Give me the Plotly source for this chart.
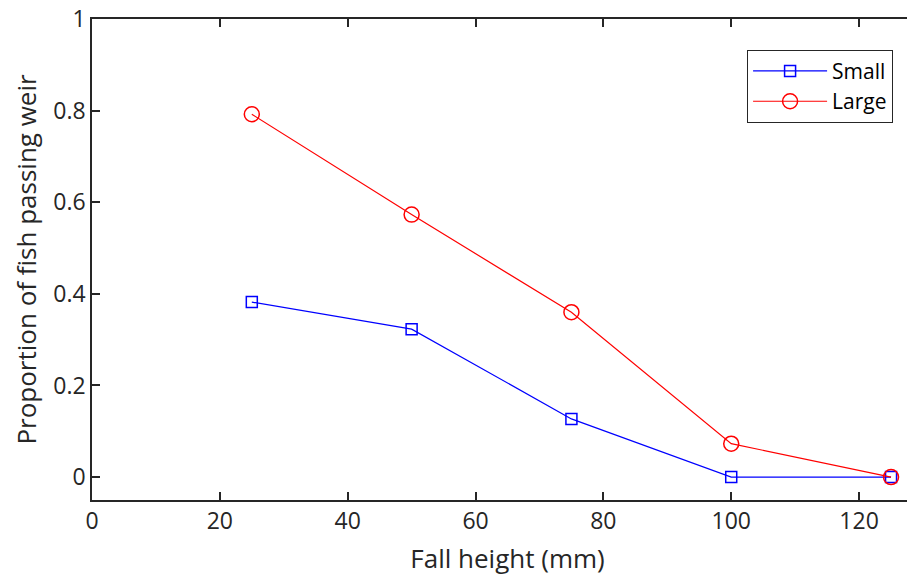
import plotly.graph_objects as go

fall_height = [25, 50, 75, 100, 125]
small = [0.382, 0.323, 0.127, 0.0, 0.0]
large = [0.792, 0.573, 0.360, 0.073, 0.0]

x_ticks = [0, 20, 40, 60, 80, 100, 120]
y_ticks = [0, 0.2, 0.4, 0.6, 0.8, 1]
y_tick_labels = ["0", "0.2", "0.4", "0.6", "0.8", "1"]

axis_color = "#262626"
font_family = "Open Sans, Noto Sans, sans-serif"

fig = go.Figure()
fig.add_trace(go.Scatter(
    x=fall_height, y=small, name="Small", mode="lines+markers",
    line=dict(color="#0000ff", width=1.2),
    marker=dict(symbol="square-open", size=11, color="#0000ff", line=dict(width=1.5)),
))
fig.add_trace(go.Scatter(
    x=fall_height, y=large, name="Large", mode="lines+markers",
    line=dict(color="#ff0000", width=1.2),
    marker=dict(symbol="circle-open", size=15, color="#ff0000", line=dict(width=1.5)),
))

fig.update_layout(
    width=915, height=574,
    margin=dict(l=84, r=0, t=11, b=82, autoexpand=False),
    paper_bgcolor="white", plot_bgcolor="white",
    font=dict(family=font_family, size=23, color=axis_color),
    showlegend=True,
    legend=dict(
        x=0.964, y=0.936, xanchor="right", yanchor="top",
        bgcolor="white", bordercolor="#262626", borderwidth=1,
        font=dict(size=21, color="black"),
        tracegroupgap=0, itemwidth=74,
    ),
)
fig.update_xaxes(
    range=[0, 130], tickvals=x_ticks, ticktext=[str(v) for v in x_ticks],
    showgrid=False, zeroline=False, automargin=False,
    showline=True, linecolor=axis_color, linewidth=1.5, mirror="ticks",
    ticks="inside", ticklen=8, tickwidth=1.5, tickcolor=axis_color,
    title=dict(text="Fall height (mm)", font=dict(size=26), standoff=14),
    tickfont=dict(size=23), ticklabeloverflow="allow",
)
fig.update_yaxes(
    range=[-0.05, 1], tickvals=y_ticks, ticktext=y_tick_labels,
    showgrid=False, zeroline=False, automargin=False,
    showline=True, linecolor=axis_color, linewidth=1.5, mirror=False,
    ticks="inside", ticklen=8, tickwidth=1.5, tickcolor=axis_color,
    title=dict(text="Proportion of fish passing weir", font=dict(size=26), standoff=26),
    tickfont=dict(size=23), ticklabeloverflow="allow",
)

fig.write_html("out.html")
